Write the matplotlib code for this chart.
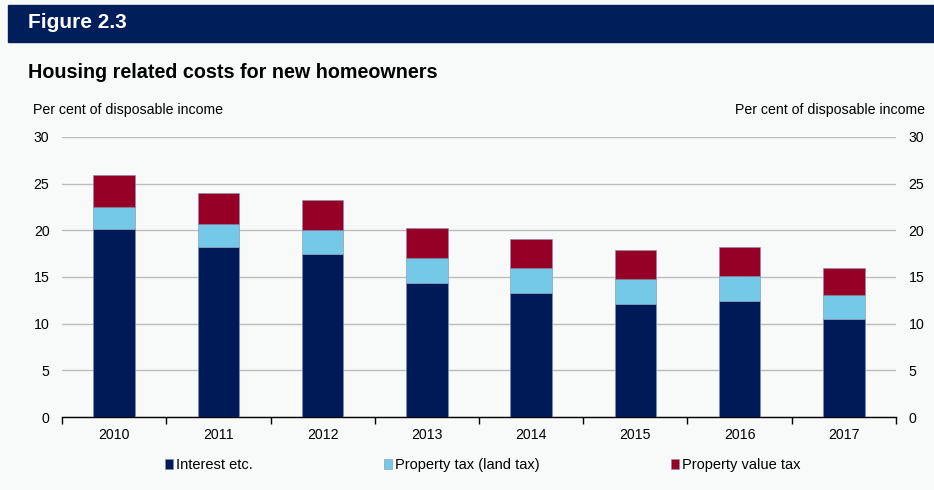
import matplotlib
matplotlib.use("Agg")
import matplotlib.pyplot as plt
import numpy as np
from matplotlib.patches import Rectangle

plt.rcParams['font.family'] = ['Liberation Sans', 'DejaVu Sans']

years = ["2010", "2011", "2012", "2013", "2014", "2015", "2016", "2017"]
interest = [20.1, 18.2, 17.5, 14.4, 13.3, 12.1, 12.4, 10.5]
land_tax = [2.4, 2.5, 2.5, 2.6, 2.7, 2.7, 2.7, 2.6]
value_tax = [3.4, 3.3, 3.3, 3.2, 3.1, 3.1, 3.1, 2.9]
series_names = ["Interest etc.", "Property tax (land tax)", "Property value tax"]
y_ticks = [0, 5, 10, 15, 20, 25, 30]

bg = "#f8f9f9"
navy = "#001a57"
light = "#75c9e8"
red = "#960026"

fig = plt.figure(figsize=(9.34, 4.90), dpi=100, facecolor=bg)
W, H = 934, 490

# header banner
fig.patches.append(Rectangle((8 / W, 1 - 42 / H), 1 - 8 / W, 37 / H,
                             transform=fig.transFigure, color="#001e5a", zorder=0))
fig.text(28 / W, 1 - 23 / H, "Figure 2.3", color="white", fontsize=15,
         fontweight="bold", va="center", ha="left")
fig.text(28 / W, 1 - 73 / H, "Housing related costs for new homeowners",
         color="black", fontsize=14.2, fontweight="bold", va="center", ha="left")
fig.text(33 / W, 1 - 110 / H, "Per cent of disposable income", fontsize=10.2,
         va="center", ha="left")
fig.text(925 / W, 1 - 110 / H, "Per cent of disposable income", fontsize=10.2,
         va="center", ha="right")

ax = fig.add_axes([62 / W, 1 - 417 / H, (896 - 62) / W, (417 - 137) / H])
ax.set_facecolor(bg)

x = np.arange(len(years))
bw = 0.4
edge = dict(edgecolor="#8090b0", linewidth=0.4)
b1 = ax.bar(x, interest, bw, color=navy, zorder=3, **edge)
b2 = ax.bar(x, land_tax, bw, bottom=interest, color=light, zorder=3, **edge)
bottom2 = [a + b for a, b in zip(interest, land_tax)]
b3 = ax.bar(x, value_tax, bw, bottom=bottom2, color=red, zorder=3, **edge)

ax.set_xlim(-0.5, len(years) - 0.5)
ax.set_ylim(0, 30)
ax.set_yticks(y_ticks)
ax.yaxis.grid(True, color="#bdbdbd", linewidth=1.0, zorder=0)
ax.set_axisbelow(True)
ax.tick_params(axis="y", length=0, labelsize=10.2, pad=9,
               left=False, right=False, labelleft=True, labelright=True)

ax.set_xticks(x)
ax.set_xticklabels(years, fontsize=10.2)
ax.set_xticks(np.arange(-0.5, len(years)), minor=True)
ax.tick_params(axis="x", which="major", length=0, pad=8)
ax.tick_params(axis="x", which="minor", length=5, width=1, direction="out", color="black")

for s in ["top", "left", "right"]:
    ax.spines[s].set_visible(False)
ax.spines["bottom"].set_color("black")
ax.spines["bottom"].set_linewidth(1)

leg = fig.legend([b1, b2, b3], series_names, loc="center", ncol=3,
                 bbox_to_anchor=(483 / W, 1 - 465 / H), frameon=False, fontsize=10.5,
                 handlelength=0.55, handleheight=0.7, handletextpad=0.2,
                 columnspacing=9.0)

fig.savefig("out.png", dpi=100, facecolor=bg)
